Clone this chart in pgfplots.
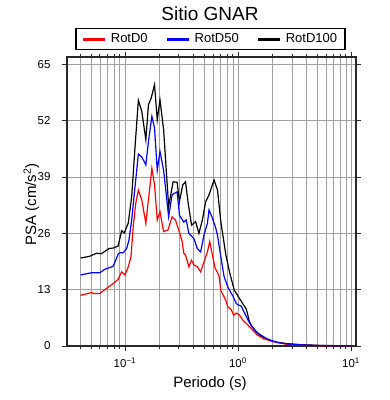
\documentclass[border=0pt]{standalone}
\usepackage{fontspec}
\setmainfont{Liberation Sans}
\usepackage{pgfplots}
\pgfplotsset{compat=1.18}
\definecolor{gridgray}{RGB}{160,160,160}
\definecolor{framegray}{RGB}{40,40,40}
\begin{document}
\begin{tikzpicture}
\begin{axis}[
  name=ax,
  scale only axis, width=289bp, height=289bp,
  xmode=log, xmin=0.0307, xmax=11.07, ymin=0, ymax=66.7,
  xtick={0.1,1,10},
  xticklabels={10\textsuperscript{−1},10\textsuperscript{0},10\textsuperscript{1}},
  minor xtick={0.04,0.05,0.06,0.07,0.08,0.09,0.2,0.3,0.4,0.5,0.6,0.7,0.8,0.9,2,3,4,5,6,7,8,9},
  ytick={0,13,26,39,52,65},
  xmajorgrids, xminorgrids, ymajorgrids,
  major grid style={gridgray, line width=0.6bp},
  minor grid style={gridgray, line width=0.6bp},
  axis line style={framegray, line width=2bp},
  tick align=outside, tick pos=both,
  major tick length=5bp, minor tick length=3bp,
  tick style={framegray, line width=0.8bp},
  /pgf/number format/assume math mode=true,
  ticklabel style={font=\fontsize{11.5bp}{13bp}\selectfont},
  yticklabel style={xshift=-8bp},
  xticklabel style={yshift=-3bp},
  legend columns=3,
  legend style={at={(0.4965,1)}, anchor=south, yshift=7bp, draw=black, line width=1.3bp,
    font=\fontsize{13bp}{15bp}\selectfont, inner xsep=6bp, inner ysep=3bp,
    /tikz/every even column/.append style={column sep=16bp},
    /tikz/every odd column/.append style={column sep=2bp}},
  legend image code/.code={\draw[line width=3bp] (0bp,0bp) -- (22bp,0bp);},
]
\addlegendimage{red}\addlegendentry{RotD0}
\addlegendimage{blue}\addlegendentry{RotD50}
\addlegendimage{black}\addlegendentry{RotD100}

% RotD100
\addplot[black, line width=1.2bp, forget plot] table {
0.0405 20.3
0.0487 20.7
0.0559 21.4
0.0619 21.3
0.0724 22.5
0.0786 22.6
0.0871 23.1
0.0934 26.6
0.0986 26.1
0.1070 28.4
0.1147 34.5
0.1228 46.0
0.1314 56.7
0.1410 54.1
0.1530 47.6
0.1614 55.7
0.1706 57.2
0.1826 60.3
0.1931 52.2
0.2041 56.8
0.2198 49.9
0.2435 32.2
0.2666 37.9
0.2894 37.8
0.3034 33.3
0.3248 37.2
0.3433 37.9
0.3629 32.9
0.3884 27.9
0.4217 28.7
0.4513 26.0
0.4839 29.1
0.5179 33.3
0.5543 34.9
0.6142 38.3
0.6588 36.0
0.7050 28.7
0.7815 21.0
0.843 17.0
0.9267 12.9
1.0 11.5
1.070 10.3
1.186 8.5
1.254 5.9
1.315 4.6
1.55 2.5
1.919 1.3
2.184 0.9
2.683 0.55
3.65 0.3
5.51 0.12
9.8 0.05
};
% RotD0
\addplot[red, line width=1.2bp, forget plot] table {
0.0405 11.7
0.0504 12.3
0.0540 12.1
0.0598 12.1
0.0687 13.3
0.0786 14.4
0.0871 15.4
0.0934 17.1
0.1000 16.4
0.1070 18.3
0.1131 20.6
0.1186 27.9
0.1246 32.9
0.1314 36.0
0.1410 33.7
0.1530 28.3
0.1638 35.3
0.1731 41.0
0.1826 37.2
0.1931 29.1
0.2041 31.0
0.2198 26.4
0.2405 26.8
0.2612 29.8
0.2795 29.1
0.2991 26.8
0.3208 24.1
0.3315 21.4
0.3433 21.0
0.3674 18.3
0.3884 19.8
0.4072 18.7
0.4367 18.3
0.4672 17.1
0.5001 19.4
0.5364 21.7
0.5623 24.1
0.5942 21.0
0.6270 18.0
0.6588 17.0
0.6808 16.0
0.7050 12.8
0.7815 10.5
0.8141 9.0
0.8713 8.4
0.9154 7.1
0.9657 7.6
1.0356 7.1
1.108 5.9
1.186 5.2
1.315 4.0
1.457 2.7
1.672 1.7
1.983 1.1
2.683 0.4
3.65 0.16
5.51 0.07
9.8 0.02
};
% RotD50
\addplot[blue, line width=1.2bp, forget plot] table {
0.0405 16.4
0.0504 16.9
0.0598 16.9
0.0663 17.7
0.0786 18.4
0.0871 21.2
0.0902 21.5
0.0965 21.5
0.1035 22.5
0.1086 24.5
0.1147 29.1
0.1186 32.9
0.1314 44.3
0.1410 43.6
0.1530 41.8
0.1614 47.2
0.1731 53.0
0.1826 50.3
0.1931 40.6
0.2041 44.9
0.2198 40.6
0.2435 29.8
0.2612 34.9
0.2894 35.6
0.3034 30.2
0.3315 28.6
0.3483 29.1
0.3674 26.0
0.4072 24.8
0.4367 22.5
0.4672 21.7
0.5001 25.6
0.5364 28.3
0.5543 31.4
0.5942 29.5
0.6360 27.2
0.6588 25.6
0.7050 20.6
0.7540 16.0
0.8141 13.6
0.8660 12.3
0.9023 11.5
0.9657 9.8
1.02 9.4
1.070 9.2
1.148 7.5
1.272 5.2
1.457 3.2
1.788 1.7
2.184 0.85
2.683 0.5
3.65 0.23
5.51 0.1
9.8 0.03
};
\end{axis}
\node[font=\fontsize{19bp}{22bp}\selectfont] at ([xshift=-1.5bp,yshift=43bp]ax.north) {Sitio GNAR};
\node[anchor=base, font=\fontsize{15bp}{18bp}\selectfont] at ([xshift=-1.5bp,yshift=-41.3bp]ax.south) {Periodo (s)};
\node[rotate=90, anchor=base, font=\fontsize{15bp}{18bp}\selectfont] at ([xshift=-31bp,yshift=-3bp]ax.west) {PSA (cm/s\textsuperscript{2})};
\pgfresetboundingbox
\path ([xshift=-67bp,yshift=-54bp]ax.south west) rectangle ([xshift=34bp,yshift=57bp]ax.north east);
\end{tikzpicture}
\end{document}
